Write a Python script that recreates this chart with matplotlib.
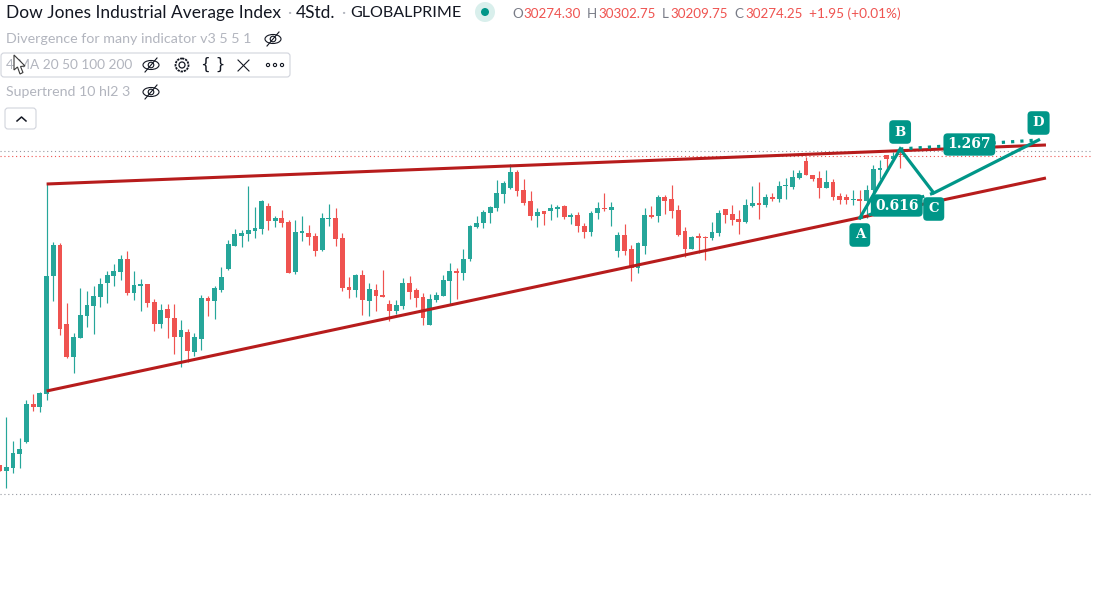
import numpy as np
import matplotlib
matplotlib.use('Agg')
from matplotlib import pyplot as plt
from matplotlib.patches import FancyBboxPatch, Circle, Polygon, Ellipse

# candles, left to right, first one is cut off by the left edge
opens = [28725, 28695, 28710, 28780, 28840, 29030, 29015, 29080, 29670, 29825,
         29430, 29265, 29360, 29470, 29520, 29565, 29635, 29670, 29690, 29755,
         29585, 29620, 29630, 29540, 29430, 29505, 29460, 29365, 29390, 29290,
         29355, 29560, 29545, 29600, 29705, 29820, 29870, 29880, 29895, 29905,
         30020, 29945, 29960, 29940, 29690, 29885, 29885, 29870, 29800, 29955,
         29960, 29860, 29615, 29600, 29675, 29545, 29600, 29575, 29530, 29495,
         29520, 29635, 29600, 29565, 29425, 29550, 29570, 29645, 29695, 29685,
         29755, 29915, 29935, 29985, 30010, 30080, 30110, 30190, 30100, 30045,
         29970, 29995, 29995, 30005, 30020, 29965, 29975, 29920, 29890, 29985,
         30010, 30000, 29795, 29875, 29805, 29710, 29820, 29975, 29970, 30065,
         30055, 30000, 29895, 29805, 29870, 29865, 29860, 29885, 30005, 29980,
         29955, 29940, 30020, 30035, 30025, 30065, 30055, 30120, 30115, 30160,
         30245, 30175, 30160, 30110, 30140, 30070, 30065, 30050, 30055, 30045,
         30100, 30200, 30275, 30255, 30274.30]
highs = [28725, 28965, 28845, 28860, 29050, 29080, 29090, 30135, 29840, 29835,
         29535, 29385, 29610, 29595, 29620, 29660, 29695, 29730, 29775, 29795,
         29695, 29655, 29630, 29555, 29530, 29530, 29530, 29450, 29405, 29385,
         29575, 29570, 29620, 29715, 29850, 29905, 29900, 30120, 30015, 30050,
         30035, 29970, 30000, 29950, 29950, 29970, 29925, 29885, 29985, 30030,
         30010, 29885, 29665, 29680, 29700, 29635, 29630, 29700, 29550, 29550,
         29660, 29670, 29610, 29585, 29580, 29590, 29675, 29735, 29710, 29805,
         29925, 29970, 30000, 30020, 30150, 30145, 30230, 30200, 30155, 30095,
         30010, 29995, 30030, 30025, 30025, 29985, 29990, 29935, 29995, 30040,
         30085, 30040, 29890, 29930, 29825, 29840, 30010, 30020, 30075, 30075,
         30125, 30025, 29915, 29870, 29885, 29870, 29940, 30000, 30005, 30025,
         30000, 30055, 30120, 30140, 30080, 30085, 30145, 30160, 30200, 30200,
         30265, 30175, 30195, 30200, 30155, 30085, 30080, 30100, 30100, 30125,
         30225, 30250, 30275, 30290, 30302.75]
lows = [28695, 28610, 28685, 28710, 28835, 28995, 28990, 29050, 29545, 29375,
        29260, 29185, 29360, 29415, 29380, 29515, 29535, 29620, 29650, 29575,
        29550, 29495, 29515, 29395, 29410, 29360, 29280, 29215, 29240, 29270,
        29300, 29470, 29455, 29590, 29700, 29820, 29815, 29845, 29860, 29880,
        29900, 29915, 29915, 29685, 29680, 29845, 29825, 29770, 29795, 29920,
        29820, 29595, 29560, 29565, 29475, 29470, 29495, 29565, 29445, 29480,
        29505, 29555, 29515, 29425, 29425, 29540, 29570, 29525, 29555, 29650,
        29745, 29910, 29910, 29935, 29995, 30035, 30105, 30070, 30025, 29950,
        29915, 29925, 29950, 29965, 29955, 29930, 29890, 29860, 29870, 29955,
        29995, 29920, 29765, 29775, 29645, 29685, 29780, 29960, 29940, 29980,
        29960, 29870, 29765, 29805, 29785, 29750, 29850, 29870, 29935, 29925,
        29880, 29935, 30015, 29955, 30015, 30045, 30040, 30055, 30105, 30155,
        30175, 30145, 30060, 30110, 30050, 30030, 30030, 30025, 29955, 29960,
        30000, 30155, 30210, 30250, 30209.75]
closes = [28695, 28715, 28785, 28805, 29030, 29015, 29085, 29670, 29825, 29405,
          29265, 29365, 29475, 29525, 29570, 29630, 29675, 29695, 29755, 29585,
          29625, 29630, 29535, 29430, 29500, 29460, 29365, 29400, 29295, 29365,
          29560, 29545, 29610, 29665, 29830, 29880, 29885, 29900, 29910, 30045,
          29945, 29960, 29935, 29685, 29890, 29895, 29865, 29795, 29960, 29960,
          29855, 29610, 29600, 29675, 29550, 29605, 29570, 29565, 29495, 29525,
          29635, 29590, 29560, 29460, 29555, 29575, 29650, 29695, 29685, 29755,
          29920, 29935, 29990, 30015, 30085, 30135, 30190, 30095, 30035, 29970,
          29990, 29980, 30010, 30015, 29965, 29975, 29920, 29890, 29985, 30010,
          30005, 30015, 29875, 29795, 29710, 29835, 29975, 29965, 30065, 30045,
          29995, 29875, 29805, 29865, 29860, 29860, 29890, 29985, 29975, 29950,
          29940, 30025, 30035, 30025, 30065, 30055, 30120, 30125, 30165, 30185,
          30175, 30155, 30110, 30140, 30065, 30050, 30050, 30055, 30045, 30100,
          30205, 30210, 30255, 30270, 30274.25]

# drawings, as (bar number, price)
upper_line = [(6, 30130), (154.7, 30325)]
lower_line = [(6, 29095), (154.7, 30160)]
abcd_bars = [127, 133, 138, 153.6]
abcd_prices = [29960, 30305, 30085, 30350]
abcd_names = ['A', 'B', 'C', 'D']
ratio_labels = ['0.616', '1.267']

price_line = 30270
top_line = 30295
bottom_line = 28580

GREEN = '#26a69a'
RED = '#ef5350'
TEAL = '#009688'
DARK_RED = '#b71c1c'
GREY = '#b2b5be'
TEXT = '#131722'

bars = np.arange(len(opens)) - 1
opens = np.array(opens)
closes = np.array(closes)
up = closes >= opens
colors = np.where(up, GREEN, RED)

fig = plt.figure(figsize=(10.93, 5.96), dpi=100)
ax = fig.add_axes([0, 0, 1, 1])
ax.set_xlim(-0.94, 161.7)
ax.set_ylim(28070, 31050)
ax.axis('off')

ax.axhline(top_line, color='#9598a1', lw=0.8, dashes=(1, 2.5), zorder=1)
ax.axhline(bottom_line, color='#9598a1', lw=0.8, dashes=(1, 2.5), zorder=1)
ax.axhline(price_line, color=RED, lw=0.8, dashes=(1, 2.5), zorder=1)

ax.vlines(bars, lows, highs, colors=colors, lw=0.85, zorder=2)
ax.bar(bars, np.maximum(np.abs(closes - opens), 5), bottom=np.minimum(opens, closes),
       width=0.72, color=colors, linewidth=0, zorder=2)

for line in (upper_line, lower_line):
    ax.plot([p[0] for p in line], [p[1] for p in line], color=DARK_RED, lw=2.2,
            solid_capstyle='butt', zorder=3)

# harmonic pattern
ax.plot(abcd_bars, abcd_prices, color=TEAL, lw=2.3, solid_joinstyle='miter', zorder=4)
ax.plot([abcd_bars[1], abcd_bars[3]], [abcd_prices[1], abcd_prices[3]], color=TEAL,
        lw=2.3, dashes=(1, 1.9), zorder=4)
ax.plot([abcd_bars[0], abcd_bars[2]], [abcd_prices[0], abcd_prices[2]], color=TEAL,
        lw=2.3, dashes=(1, 1.9), zorder=4)

serif = dict(family='DejaVu Serif', weight='bold', color='white', ha='center', va='center', zorder=6)
box = dict(boxstyle='round,pad=0.4,rounding_size=0.3', fc=TEAL, ec='none')
offsets = [-85, 85, -80, 85]
for b, p, name, off in zip(abcd_bars, abcd_prices, abcd_names, offsets):
    ax.text(b, p + off, name, fontsize=9.5, bbox=box, **serif)

ratio_box = dict(box, boxstyle='round,pad=0.3,rounding_size=0.3')
ax.text((abcd_bars[0] + abcd_bars[2]) / 2, (abcd_prices[0] + abcd_prices[2]) / 2,
        ratio_labels[0], fontsize=10, bbox=ratio_box, **serif)
ax.text((abcd_bars[1] + abcd_bars[3]) / 2, (abcd_prices[1] + abcd_prices[3]) / 2,
        ratio_labels[1], fontsize=10, bbox=ratio_box, **serif)

# overlay in screen pixels for the legend block
ui = fig.add_axes([0, 0, 1, 1], facecolor='none')
ui.set_xlim(0, 1093)
ui.set_ylim(596, 0)
ui.axis('off')
FONT = 'Lato'


def eye(x, y):
    ui.add_patch(Ellipse((x, y), 16, 9, fc='none', ec=TEXT, lw=0.8, zorder=8))
    ui.add_patch(Circle((x, y), 2.8, fc='none', ec=TEXT, lw=0.8, zorder=8))
    ui.plot([x - 6, x + 6], [y + 7, y - 7], color=TEXT, lw=0.8, zorder=8)


ui.text(6, 13, 'Dow Jones Industrial Average Index', fontsize=12.5, family=FONT, color=TEXT, va='center')
ui.text(287, 13, '·', fontsize=11.6, family=FONT, color=GREY, va='center')
ui.text(296, 13, '4Std.', fontsize=12.5, family=FONT, color=TEXT, va='center')
ui.text(341, 13, '·', fontsize=11.6, family=FONT, color=GREY, va='center')
ui.text(350, 13, 'GLOBALPRIME', fontsize=11.6, family=FONT, color=TEXT, va='center')
ui.add_patch(Circle((485, 12), 10, fc='#d9efec', ec='none'))
ui.add_patch(Circle((485, 12), 4, fc=TEAL, ec='none'))

x = 512
for head, val in [('O', '30274.30'), ('H', '30302.75'), ('L', '30209.75'), ('C', '30274.25')]:
    ui.text(x, 14, head, fontsize=9.6, family=FONT, color='#787b86', va='center')
    ui.text(x + 11 if head != 'L' else x + 8, 14, val, fontsize=9.6, family=FONT, color=RED, va='center')
    x += 75 if head == 'O' else 75 if head == 'H' else 72
ui.text(809, 14, '+1.95 (+0.01%)', fontsize=9.8, family=FONT, color=RED, va='center')

ui.text(6, 39, 'Divergence for many indicator v3 5 5 1', fontsize=10.3, family=FONT, color=GREY, va='center')
eye(273, 39)
ui.add_patch(FancyBboxPatch((1, 53), 289, 24, boxstyle='round,pad=0,rounding_size=3',
                            fc='white', ec='#d1d4dc', lw=0.8, zorder=5))
ui.text(6, 65, '4 MA 20 50 100 200', fontsize=9.8, family=FONT, color=GREY, va='center', zorder=6)
eye(151, 65)
ui.add_patch(Circle((182, 65), 3, fc='none', ec=TEXT, lw=0.9, zorder=8))
ui.add_patch(Circle((182, 65), 6.5, fc='none', ec=TEXT, lw=1.3, ls=(0, (1.3, 0.5)), zorder=8))
ui.text(213, 64, '{ }', fontsize=11, family='DejaVu Sans', color=TEXT, ha='center', va='center', zorder=8)
ui.plot([238, 249], [60, 71], color=TEXT, lw=0.8, zorder=8)
ui.plot([238, 249], [71, 60], color=TEXT, lw=0.8, zorder=8)
for cx in (268, 275, 282):
    ui.add_patch(Circle((cx, 65), 1.6, fc='none', ec=TEXT, lw=0.8, zorder=8))
ui.text(6, 92, 'Supertrend 10 hl2 3', fontsize=10.2, family=FONT, color=GREY, va='center')
eye(151, 92)
ui.add_patch(FancyBboxPatch((5, 108), 31, 21, boxstyle='round,pad=0,rounding_size=3',
                            fc='white', ec='#d1d4dc', lw=0.8, zorder=5))
ui.plot([17, 21.5, 26], [121, 117, 121], color=TEXT, lw=1.1, zorder=8)

# mouse pointer left in the screenshot
ui.add_patch(Polygon([(14, 55), (14, 70), (17.5, 67), (20, 74), (23, 72.5), (20.5, 66.5), (25, 66)],
                     closed=True, fc='white', ec='#3a3a3a', lw=0.8, zorder=9))

fig.savefig('out.png', dpi=100)
